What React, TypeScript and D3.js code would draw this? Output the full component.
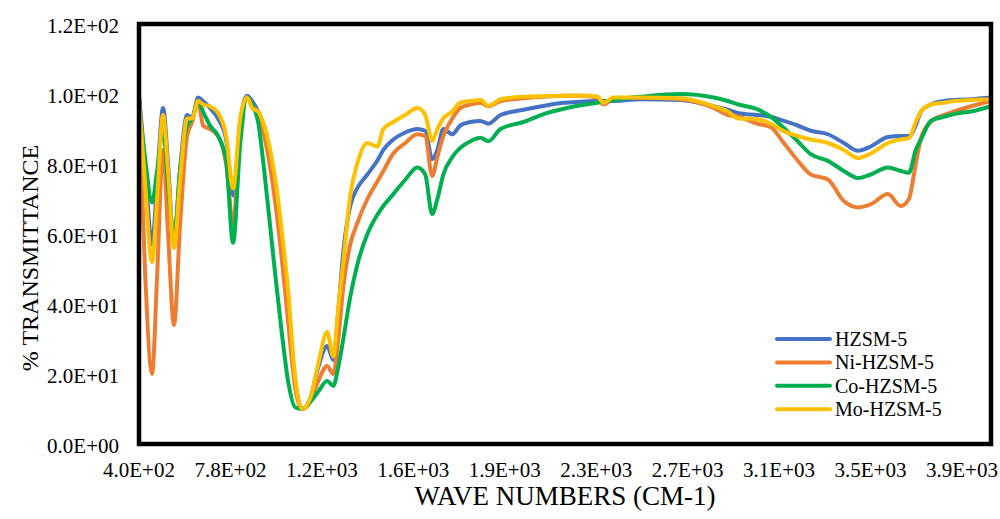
import React from "react";
import * as d3 from "d3";

const wavenumbers = [
  400, 425, 455, 476, 501, 522, 547, 572, 602, 623, 648, 669, 698, 732, 766, 795, 825, 854, 875, 900,
  926, 951, 976, 1001, 1026, 1056, 1085, 1119, 1153, 1190, 1216, 1237, 1258, 1287, 1316, 1359, 1401, 1426, 1468, 1518,
  1569, 1602, 1631, 1653, 1678, 1716, 1749, 1792, 1834, 1867, 1918, 2014, 2115, 2183, 2254, 2325, 2350, 2393, 2506, 2674,
  2813, 2872, 2918, 2998, 3053, 3108, 3166, 3221, 3293, 3360, 3419, 3473, 3545, 3599, 3633, 3662, 3684, 3725, 3780, 3822,
  3894, 3978,
];

const hzsm5 = [
  100, 80, 57, 75, 96, 80, 57, 78, 94, 93, 99, 98, 96, 93, 87, 71, 92, 99.5, 98, 95,
  90, 82, 71, 57, 40, 18, 10, 13, 22, 28, 24, 38, 55, 68, 73, 77, 81, 84, 87, 89,
  90, 89.5, 81.4, 84, 90, 88.5, 91, 92, 92.3, 91.5, 94, 95.5, 96.8, 97.5, 97.8, 98, 98, 98, 98.5, 98.3,
  96.5, 95.5, 94.5, 94, 93.5, 92.3, 91, 89.5, 88.5, 86, 83.8, 85, 87.7, 88, 88, 91, 95, 97, 98, 98.3,
  98.5, 99,
];

const niHzsm5 = [
  97, 50, 20, 48, 84, 60, 34, 62, 88, 92, 98, 91, 90, 88, 80, 63, 90, 99, 97, 94,
  88, 79, 67, 52, 35, 16, 10, 12, 18, 22.3, 20, 30, 45, 57, 63, 70, 75, 78, 83, 86,
  88.5, 88, 76.6, 82, 88, 93, 96, 97, 97.5, 96.5, 98, 98.8, 99.3, 99.5, 99.5, 99, 97, 98.5, 99, 98.5,
  96, 94, 93.5, 91.5, 90.5, 86, 81, 77, 75.6, 69.4, 67.6, 68.5, 71.4, 68, 70, 80, 87.4, 92, 94, 95,
  96.5, 98,
];

const coHzsm5 = [
  97, 82, 69, 78, 90, 74, 59, 78, 91, 93, 98, 95, 91, 88, 81, 57.5, 85.7, 99, 97, 92,
  78, 62, 46, 31, 18, 10.5, 10, 12, 15, 18, 16.6, 22, 30, 42, 51, 60, 65.5, 68, 71.4, 75.5,
  79, 77, 65.7, 70, 77, 82, 84.6, 86.5, 87.5, 86.5, 90, 92, 94.6, 95.8, 96.8, 97.5, 97.8, 98.3, 99.2, 100,
  99, 98, 97, 95.6, 93.5, 90.3, 86.5, 82.8, 80.9, 78, 76, 77, 79, 78, 77.5, 84, 87, 92.3, 93.5, 94.3,
  95, 96.5,
];

const moHzsm5 = [
  98, 75, 52, 70, 94, 78, 56, 75, 93, 93, 98, 97, 96.5, 94.6, 88, 73, 93, 99, 96, 95,
  91, 84, 74, 60, 44, 19, 10, 13, 23, 32, 25, 39, 52, 71, 80, 86, 85, 90, 92, 94,
  96, 94, 86.6, 90, 93, 95, 97.5, 98, 98.3, 96.6, 98.5, 99.2, 99.4, 99.5, 99.6, 99.3, 97.5, 99, 99, 98.8,
  96.5, 95, 93, 92.8, 91.5, 89.4, 88, 87, 86, 84, 81.7, 83, 86, 87, 87.4, 92, 95, 97, 97.5, 98,
  98.3, 98.5,
];

const seriesNames = ["HZSM-5", "Ni-HZSM-5", "Co-HZSM-5", "Mo-HZSM-5"];
const seriesValues = [hzsm5, niHzsm5, coHzsm5, moHzsm5];
const seriesColors = ["#4472C4", "#ED7D31", "#00B050", "#FFC000"];

const xTicks = [400, 784, 1168, 1552, 1936, 2320, 2704, 3088, 3472, 3856];
const yTicks = [0, 20, 40, 60, 80, 100, 120];

const FONT = "'Liberation Serif', 'Times New Roman', serif";

function sci(v: number): string {
  const s = v.toExponential(1).toUpperCase();
  return s.replace(/E([+-])(\d)$/, "E$10$2");
}

export default function App() {
  const left = 139, right = 991, top = 24, bottom = 444;
  const x = d3.scaleLinear().domain([400, 3978]).range([left, right]);
  const y = d3.scaleLinear().domain([0, 120]).range([bottom, top]);

  const line = d3
    .line<number>()
    .x((_, i) => x(wavenumbers[i]))
    .y((d) => y(d))
    .curve(d3.curveMonotoneX);

  const legendX = 777, legendY0 = 339, legendDy = 23.4;

  return (
    <svg
      width={1000}
      height={519}
      style={{ position: "absolute", left: 0, top: 0, background: "#fff" }}
      fontFamily={FONT}
    >
      <rect x={0} y={0} width={1000} height={519} fill="#fff" />
      {seriesValues.map((vals, k) => (
        <path
          key={seriesNames[k]}
          d={line(vals) || ""}
          fill="none"
          stroke={seriesColors[k]}
          strokeWidth={4}
          strokeLinejoin="round"
          strokeLinecap="round"
        />
      ))}
      <rect
        x={left}
        y={top}
        width={right - left}
        height={bottom - top}
        fill="none"
        stroke="#000"
        strokeWidth={4.5}
      />
      {yTicks.map((t) => (
        <text
          key={"y" + t}
          x={119}
          y={y(t) + 2}
          textAnchor="end"
          dominantBaseline="central"
          fontSize={21}
          fill="#000"
        >
          {sci(t)}
        </text>
      ))}
      {xTicks.map((t) => (
        <text key={"x" + t} x={x(t)} y={477} textAnchor="middle" fontSize={21} fill="#000">
          {sci(t)}
        </text>
      ))}
      <text x={(left + right) / 2} y={505} textAnchor="middle" fontSize={27} fill="#000">
        WAVE NUMBERS (CM-1)
      </text>
      <text
        transform={`translate(38, 258) rotate(-90)`}
        textAnchor="middle"
        fontSize={24}
        fill="#000"
      >
        % TRANSMITTANCE
      </text>
      {seriesNames.map((name, k) => (
        <g key={"lg" + name}>
          <line
            x1={legendX}
            x2={legendX + 53}
            y1={legendY0 + k * legendDy}
            y2={legendY0 + k * legendDy}
            stroke={seriesColors[k]}
            strokeWidth={4}
            strokeLinecap="round"
          />
          <text
            x={legendX + 58}
            y={legendY0 + k * legendDy}
            dominantBaseline="central"
            fontSize={20}
            fill="#000"
          >
            {name}
          </text>
        </g>
      ))}
    </svg>
  );
}
